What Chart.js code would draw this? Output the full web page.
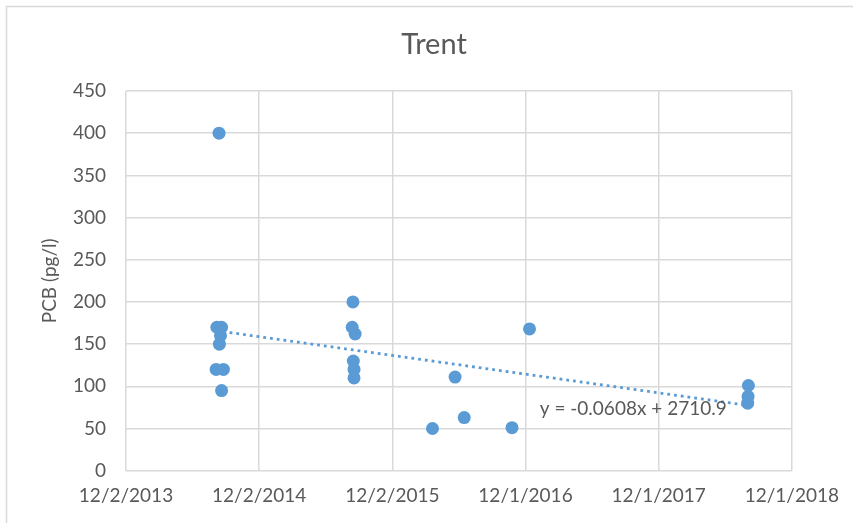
<!DOCTYPE html>
<html>
<head>
<meta charset="utf-8">
<script src="https://cdn.jsdelivr.net/npm/chart.js@4.4.1/dist/chart.umd.min.js"></script>
<style>
html,body{margin:0;padding:0;background:#fff;}
#wrap{width:853px;height:523px;position:relative;}
</style>
</head>
<body>
<div id="wrap"><canvas id="c" width="853" height="523"></canvas></div>
<script>
// ---- data ----
const chartTitle = 'Trent';
const yAxisTitle = 'PCB (pg/l)';
const sampleDates = [
  '2014-08-14','2014-08-08','2014-08-21','2014-08-18','2014-08-15','2014-08-06','2014-08-26','2014-08-21',
  '2015-08-16','2015-08-14','2015-08-22','2015-08-17','2015-08-19','2015-08-19',
  '2016-03-21','2016-05-22','2016-06-16','2016-10-25','2016-12-12',
  '2018-08-04','2018-08-03','2018-08-02'
];
const pcbValues = [
  400,170,170,160,150,120,120,95,
  200,170,162,130,120,110,
  50,111,63,51,168,
  101,88,80
];
const xTickLabels = ['12/2/2013','12/2/2014','12/2/2015','12/1/2016','12/1/2017','12/1/2018'];
const xTickStepDays = 365;
const yTicks = [0,50,100,150,200,250,300,350,400,450];
const trendSlope = -0.0608;
const trendIntercept = 2710.9;
const trendLabel = 'y = -0.0608x + 2710.9';
const trendLabelAnchor = {date: '2017-01-09', value: 73};

// ---- helpers ----
function toSerial(s){
  const [y,m,d] = s.split('-').map(Number);
  return Math.round((Date.UTC(y,m-1,d) - Date.UTC(1899,11,30)) / 86400000);
}
function labelToSerial(l){
  const [m,d,y] = l.split('/').map(Number);
  return Math.round((Date.UTC(y,m-1,d) - Date.UTC(1899,11,30)) / 86400000);
}
const xs = sampleDates.map(toSerial);
const points = xs.map((x,i)=>({x, y: pcbValues[i]}));
const xMinData = Math.min(...xs), xMaxData = Math.max(...xs);
const trendPoints = [xMinData, xMaxData].map(x=>({x, y: trendSlope*x + trendIntercept}));
const xMin = labelToSerial(xTickLabels[0]);
const xMax = labelToSerial(xTickLabels[xTickLabels.length-1]);

const FONT = 'Lato';
const TXT = '#595959';
const GRID = '#d9d9d9';
const BLUE = '#5B9BD5';

const frame = {
  id: 'frame',
  beforeDraw(chart){
    const ctx = chart.ctx;
    ctx.save();
    ctx.fillStyle = '#fff';
    ctx.fillRect(0,0,chart.width,chart.height);
    ctx.strokeStyle = GRID;
    ctx.lineWidth = 1.5;
    ctx.strokeRect(6.5, 6.5, chart.width + 50, chart.height + 50);
    ctx.restore();
  }
};
const eqLabel = {
  id: 'eqLabel',
  afterDatasetsDraw(chart){
    const ctx = chart.ctx;
    const x = chart.scales.x.getPixelForValue(toSerial(trendLabelAnchor.date));
    const y = chart.scales.y.getPixelForValue(trendLabelAnchor.value);
    ctx.save();
    ctx.font = '19px ' + FONT;
    ctx.fillStyle = TXT;
    ctx.textAlign = 'left';
    ctx.textBaseline = 'middle';
    ctx.fillText(trendLabel, x, y);
    ctx.restore();
  }
};

new Chart(document.getElementById('c'), {
  type: 'scatter',
  data: {
    datasets: [
      {
        label: 'PCB',
        data: points,
        backgroundColor: BLUE,
        borderColor: BLUE,
        borderWidth: 0,
        pointRadius: 6.5,
        pointHoverRadius: 6.5
      },
      {
        label: 'Trend',
        type: 'line',
        data: trendPoints,
        borderColor: BLUE,
        borderWidth: 2.8,
        borderDash: [2.8, 4],
        pointRadius: 0,
        fill: false,
        tension: 0
      }
    ]
  },
  options: {
    responsive: false,
    animation: false,
    events: [],
    layout: {padding: {left: 15, right: 0, top: 0, bottom: 0}},
    plugins: {
      legend: {display: false},
      tooltip: {enabled: false},
      title: {
        display: true,
        text: chartTitle,
        color: TXT,
        font: {family: FONT, size: 29, weight: 'normal', lineHeight: 1.2},
        padding: {top: 27.5, bottom: 28.7}
      }
    },
    scales: {
      x: {
        type: 'linear',
        min: xMin,
        max: xMax,
        afterFit(s){ s.height = 52.3; },
        ticks: {
          stepSize: xTickStepDays,
          color: TXT,
          font: {family: FONT, size: 19},
          padding: 14,
          maxRotation: 0,
          autoSkip: false,
          callback: (v, i) => xTickLabels[i]
        },
        grid: {color: GRID, lineWidth: 1.5, drawTicks: false},
        border: {display: false}
      },
      y: {
        min: yTicks[0],
        max: yTicks[yTicks.length-1],
        afterFit(s){ s.width = 111; },
        ticks: {
          stepSize: yTicks[1]-yTicks[0],
          color: TXT,
          font: {family: FONT, size: 19},
          padding: 20
        },
        grid: {color: GRID, lineWidth: 1.5, drawTicks: false},
        border: {display: false},
        title: {
          display: true,
          text: yAxisTitle,
          color: TXT,
          font: {family: FONT, size: 19, lineHeight: 1.2},
          padding: {top: 23, bottom: 0}
        }
      },
      y2: {
        position: 'right',
        display: true,
        afterFit(s){ s.width = 61; },
        ticks: {display: false},
        grid: {display: false},
        border: {display: false}
      }
    }
  },
  plugins: [frame, eqLabel]
});
</script>
</body>
</html>
